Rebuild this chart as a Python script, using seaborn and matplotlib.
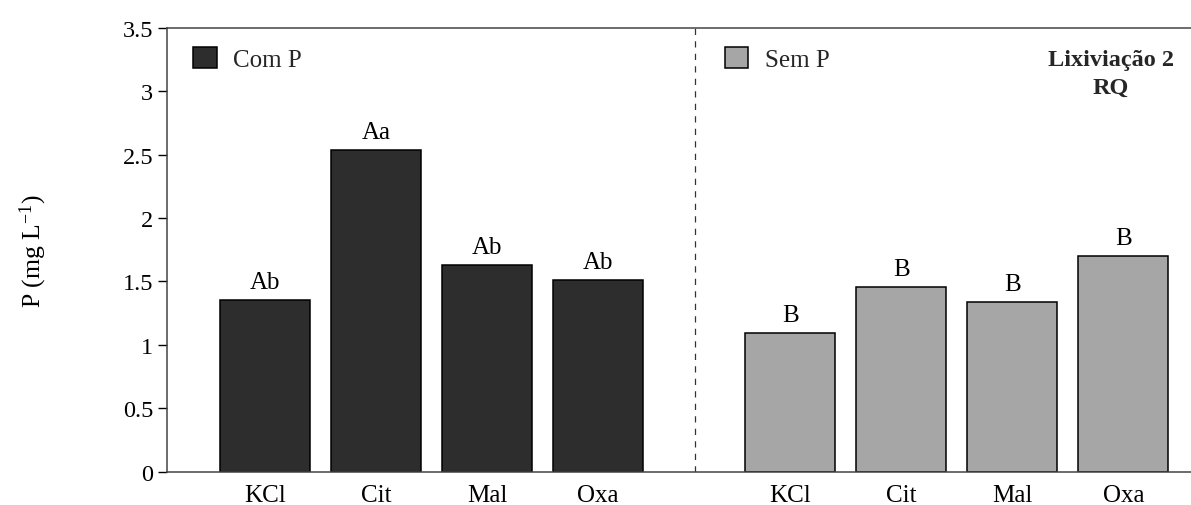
import numpy as np
import pandas as pd
import matplotlib
matplotlib.use("Agg")
import matplotlib.pyplot as plt
from matplotlib.patches import Patch
from matplotlib.ticker import FuncFormatter
import seaborn as sns

# ---- data ----
categories = ["KCl", "Cit", "Mal", "Oxa"]
com_p = [1.35, 2.54, 1.63, 1.515]
sem_p = [1.095, 1.455, 1.34, 1.70]
com_letters = ["Ab", "Aa", "Ab", "Ab"]
sem_letters = ["B", "B", "B", "B"]
series_names = ["Com P", "Sem P"]
y_ticks = [0, 0.5, 1, 1.5, 2, 2.5, 3, 3.5]
panel_title = "Lixiviação 2\nRQ"

sns.set_theme(style="white")
plt.rcParams["font.family"] = ["Liberation Serif", "DejaVu Serif"]
plt.rcParams["mathtext.fontset"] = "custom"
plt.rcParams["mathtext.rm"] = "Liberation Serif"
plt.rcParams["mathtext.it"] = "Liberation Serif:italic"

dark = "#2d2d2d"
light = "#a6a6a6"
FS = 18

fig = plt.figure(figsize=(11.91, 5.06), dpi=100)
ax = fig.add_axes([0.1402, 0.0662, 0.8598, 0.8765])

n = len(categories)
gap = 0.73
pos1 = np.arange(n, dtype=float)
pos2 = np.arange(n, dtype=float) + n + gap

df1 = pd.DataFrame({"x": pos1, "y": com_p})
df2 = pd.DataFrame({"x": pos2, "y": sem_p})

sns.barplot(data=df1, x="x", y="y", native_scale=True, color=dark, saturation=1,
            width=0.81, edgecolor="black", linewidth=1.1, ax=ax, errorbar=None)
sns.barplot(data=df2, x="x", y="y", native_scale=True, color=light, saturation=1,
            width=0.81, edgecolor="black", linewidth=1.1, ax=ax, errorbar=None)

# letters above bars
for xs, vals, labs in [(pos1, com_p, com_letters), (pos2, sem_p, sem_letters)]:
    for x, v, t in zip(xs, vals, labs):
        ax.annotate(t, (x, v), xytext=(0, 5), textcoords="offset points",
                    ha="center", va="bottom", fontsize=FS, color="black")

# dashed separator
sep = n - 1 + (1 + gap) / 2 + 0.005
ax.plot([sep, sep], [0, 3.5], linestyle=(0, (5, 5)), color="#333333", linewidth=0.9)

ax.set_xlim(-0.883, 8.34)
ax.set_ylim(0, 3.5)
ax.set_yticks(y_ticks)
ax.yaxis.set_major_formatter(FuncFormatter(lambda v, p: f"{v:g}"))
ax.set_xticks(list(pos1) + list(pos2))
ax.set_xticklabels(categories + categories)
ax.tick_params(axis="x", length=0, pad=9, labelsize=FS, colors="black")
ax.tick_params(axis="y", left=True, length=6.5, width=1, pad=3.5, labelsize=17.5,
               colors="black", direction="out")
ax.set_xlabel("")
ax.set_ylabel("P (mg L$^{-1}$)", fontsize=18.5, labelpad=53, color="black")

for s in ["left", "bottom", "top"]:
    ax.spines[s].set_visible(True)
    ax.spines[s].set_color("#444444")
    ax.spines[s].set_linewidth(1.1)
ax.spines["right"].set_visible(False)

leg_kw = dict(frameon=False, fontsize=FS, handlelength=0.95, handleheight=0.95,
              handletextpad=0.65, borderpad=0, borderaxespad=0)
h1 = [Patch(facecolor=dark, edgecolor="black", linewidth=1.1)]
l1 = ax.legend(h1, [series_names[0]], loc="upper left",
               bbox_to_anchor=(0.0254, 0.958), **leg_kw)
ax.add_artist(l1)
h2 = [Patch(facecolor=light, edgecolor="black", linewidth=1.1)]
ax.legend(h2, [series_names[1]], loc="upper left",
          bbox_to_anchor=(0.5445, 0.958), **leg_kw)

ax.text(1111 / 1191, 1 - 50 / 506, panel_title, transform=fig.transFigure,
        ha="center", va="top", fontsize=17.5, fontweight="bold", linespacing=1.4)

fig.savefig("out.png", dpi=100)
